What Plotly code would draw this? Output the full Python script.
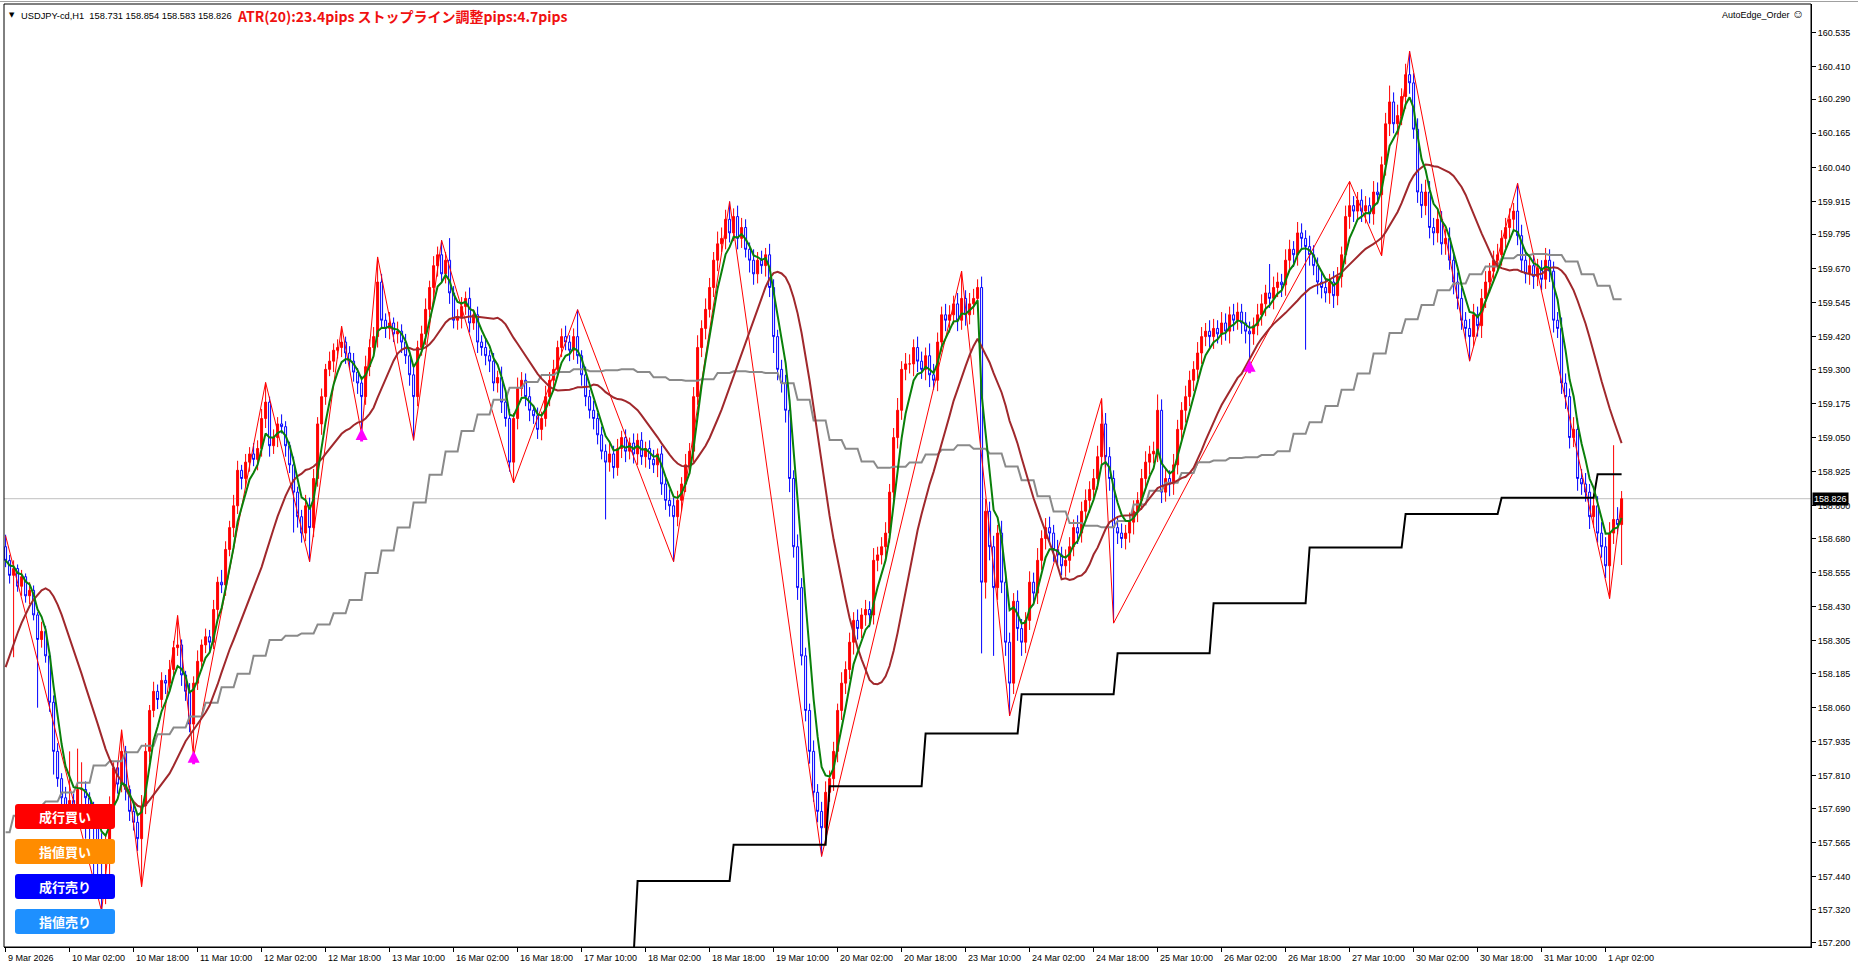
import plotly.graph_objects as go

# ---------------- figure geometry ----------------
W, H = 1858, 967
ML, MR, MT, MB = 4, 47, 4, 20
PW, PH = W - ML - MR, H - MT - MB


def pxx(px):
    return (px - ML) / PW


def pxy(py):
    return 1 - (py - MT) / PH


# ---------------- data (prices in points: 157.000 + pts*0.001) ----------------
BASE = 157.0
UNIT = 0.001

first_open_pts = 1650
close_pts = [
    1600, 1545, 1570, 1505, 1540, 1470, 1490, 1400, 1310, 1340, 1250, 1080, 900, 800, 730, 680, 720, 700, 760, 760,
    730, 690, 620, 560, 520, 560, 700, 840, 780, 900, 760, 680, 640, 580, 700, 900, 1050, 1120, 1090, 1160,
    1150, 1200, 1280, 1290, 1180, 1120, 1000, 1150, 1230, 1290, 1320, 1300, 1420, 1520, 1510, 1640, 1720, 1800, 1930, 1900,
    1960, 1990, 1970, 2010, 2120, 2180, 2020, 2050, 2100, 2090, 2020, 1950, 1850, 1760, 1700, 1800, 1720, 1900, 2100, 2200,
    2300, 2330, 2370, 2380, 2400, 2360, 2330, 2290, 2250, 2200, 2310, 2380, 2420, 2620, 2480, 2450, 2470, 2430, 2440, 2400,
    2350, 2280, 2200, 2380, 2430, 2520, 2600, 2680, 2720, 2650, 2700, 2580, 2480, 2490, 2530, 2560, 2470, 2500, 2400, 2380,
    2350, 2330, 2250, 2270, 2180, 2120, 1960, 2120, 2230, 2260, 2200, 2150, 2130, 2080, 2120, 2200, 2260, 2300, 2380, 2420,
    2400, 2370, 2420, 2350, 2280, 2200, 2150, 2120, 2060, 2000, 1960, 1990, 1940, 2010, 2050, 2000, 2030, 1990, 2040, 1980,
    2010, 1970, 1950, 1990, 1880, 1820, 1800, 1760, 1820, 1880, 1950, 2000, 2200, 2380, 2450, 2520, 2600, 2700, 2760, 2780,
    2850, 2800, 2860, 2780, 2820, 2740, 2700, 2650, 2700, 2680, 2720, 2600, 2420, 2300, 2250, 2150, 1900, 1650, 1500, 1250,
    1050, 900, 750, 680, 620, 750, 800, 900, 1050, 1150, 1200, 1300, 1380, 1350, 1400, 1420, 1400, 1600, 1620, 1650,
    1700, 1850, 2050, 2150, 2300, 2320, 2320, 2380, 2330, 2300, 2350, 2280, 2260, 2400, 2500, 2480, 2500, 2540, 2480, 2560,
    2500, 2540, 2560, 2600, 1520, 1780, 1650, 1500, 1700, 1520, 1300, 1150, 1450, 1350, 1300, 1380, 1520, 1480, 1600, 1680,
    1720, 1700, 1640, 1620, 1580, 1600, 1650, 1720, 1700, 1780, 1820, 1860, 1900, 1980, 2100, 1980, 1900, 1720, 1700, 1680,
    1700, 1740, 1780, 1820, 1900, 1960, 1990, 2000, 2150, 1850, 1900, 1880, 1950, 2080, 2150, 2200, 2260, 2300, 2360, 2420,
    2440, 2420, 2450, 2430, 2470, 2440, 2500, 2480, 2510, 2470, 2440, 2430, 2460, 2500, 2540, 2580, 2560, 2600, 2620, 2610,
    2700, 2740, 2720, 2800, 2780, 2750, 2720, 2680, 2620, 2600, 2580, 2620, 2570, 2640, 2720, 2860, 2900, 2880, 2920, 2880,
    2900, 2870, 2950, 2940, 3050, 3200, 3280, 3200, 3230, 3300, 3380, 3350, 3180, 2950, 2900, 2950, 2820, 2800, 2850, 2760,
    2780, 2700, 2620, 2560, 2480, 2450, 2420, 2500, 2460, 2560, 2620, 2660, 2700, 2720, 2780, 2820, 2850, 2880, 2790, 2700,
    2650, 2680, 2640, 2670, 2630, 2700, 2660, 2480, 2450, 2250, 2200, 2050, 2080, 1900, 1880, 1850, 1760, 1800, 1700, 1650,
    1580, 1700, 1750, 1731, 1826,
]
upper_wick_pts = [
    44, 20, 30, 15, 25, 12, 30, 18, 10, 35, 20, 15, 25, 30, 20, 40, 180, 25, 150, 100,
    30, 20, 25, 15, 40, 30, 35, 20, 25, 79, 20, 15, 30, 25, 40, 30, 20, 35, 25, 30,
    20, 35, 25, 108, 20, 15, 30, 25, 40, 20, 30, 25, 35, 20, 45, 30, 25, 40, 35, 20,
    30, 25, 40, 30, 35, 72, 20, 30, 25, 35, 20, 15, 30, 20, 25, 40, 30, 35, 25, 30,
    20, 35, 25, 30, 58, 20, 25, 30, 15, 25, 40, 30, 35, 92, 30, 25, 40, 20, 35, 25,
    30, 20, 35, 25, 30, 40, 25, 35, 30, 53, 30, 81, 25, 30, 35, 25, 40, 20, 30, 25,
    35, 20, 30, 25, 40, 30, 35, 20, 40, 30, 25, 35, 20, 30, 25, 40, 30, 35, 25, 30,
    40, 25, 30, 99, 20, 30, 25, 35, 20, 30, 25, 40, 30, 35, 25, 30, 20, 35, 25, 30,
    25, 30, 35, 20, 30, 25, 40, 30, 35, 25, 40, 30, 35, 45, 30, 40, 35, 30, 45, 40,
    35, 65, 30, 40, 35, 30, 25, 40, 30, 35, 25, 40, 30, 25, 35, 30, 40, 30, 45, 35,
    30, 25, 40, 30, 35, 40, 30, 35, 25, 40, 30, 35, 30, 40, 25, 35, 30, 45, 30, 35,
    40, 30, 35, 45, 30, 40, 35, 30, 40, 35, 30, 45, 40, 35, 30, 40, 35, 30, 40, 100,
    30, 40, 35, 30, 40, 45, 35, 40, 30, 45, 40, 35, 30, 40, 35, 30, 40, 35, 45, 30,
    35, 40, 30, 35, 30, 40, 35, 30, 45, 35, 40, 30, 35, 40, 93, 40, 35, 30, 40, 35,
    30, 35, 40, 30, 35, 40, 30, 35, 58, 40, 35, 30, 40, 35, 30, 40, 35, 30, 40, 35,
    30, 40, 35, 30, 40, 35, 30, 40, 35, 30, 40, 35, 30, 40, 35, 30, 106, 40, 35, 30,
    40, 35, 30, 40, 35, 30, 40, 35, 30, 40, 35, 30, 40, 35, 30, 40, 89, 35, 30, 40,
    35, 30, 40, 35, 30, 40, 60, 35, 40, 30, 40, 86, 35, 40, 30, 45, 40, 35, 40, 30,
    35, 40, 30, 35, 40, 30, 35, 40, 30, 35, 40, 30, 35, 40, 30, 35, 40, 30, 102, 40,
    35, 30, 40, 35, 30, 45, 40, 35, 30, 40, 35, 30, 45, 40, 35, 40, 30, 45, 35, 40,
    35, 40, 272, 45, 28,
]
lower_wick_pts = [
    25, 30, 300, 20, 35, 25, 30, 20, 250, 30, 25, 35, 85, 30, 40, 35, 30, 40, 35, 120,
    150, 170, 200, 150, 206, 180, 120, 40, 35, 30, 40, 35, 30, 45, 176, 30, 40, 25, 35, 30,
    40, 25, 35, 30, 40, 35, 30, 120, 25, 35, 30, 40, 25, 35, 30, 40, 25, 35, 30, 40,
    30, 35, 25, 40, 30, 35, 40, 30, 35, 25, 40, 30, 148, 40, 35, 30, 125, 35, 30, 40,
    30, 25, 40, 30, 35, 40, 30, 35, 40, 137, 30, 35, 25, 40, 30, 35, 40, 30, 35, 40,
    30, 40, 160, 35, 30, 40, 30, 35, 40, 30, 35, 40, 30, 35, 40, 30, 35, 25, 40, 30,
    35, 40, 30, 35, 40, 30, 35, 76, 40, 30, 35, 40, 30, 35, 40, 30, 35, 40, 30, 35,
    30, 40, 35, 30, 40, 35, 30, 40, 35, 30, 210, 35, 40, 30, 35, 40, 30, 35, 40, 30,
    40, 35, 30, 45, 40, 35, 40, 165, 35, 40, 30, 35, 40, 30, 35, 40, 30, 35, 40, 30,
    40, 35, 30, 40, 35, 30, 45, 40, 35, 30, 40, 35, 60, 40, 35, 45, 50, 40, 45, 35,
    40, 45, 35, 40, 105, 40, 35, 45, 40, 35, 40, 35, 45, 40, 35, 40, 45, 35, 40, 35,
    40, 35, 45, 40, 35, 40, 35, 45, 40, 35, 40, 45, 35, 40, 35, 40, 45, 35, 40, 35,
    40, 35, 40, 45, 261, 60, 50, 250, 45, 40, 50, 120, 40, 45, 50, 40, 35, 45, 40, 35,
    40, 35, 45, 40, 35, 40, 45, 35, 40, 35, 40, 45, 35, 40, 35, 40, 45, 350, 40, 35,
    40, 35, 45, 40, 35, 40, 45, 35, 40, 40, 35, 45, 40, 35, 40, 45, 35, 40, 35, 40,
    35, 40, 45, 35, 40, 35, 45, 40, 35, 40, 45, 117, 40, 35, 40, 45, 35, 40, 35, 45,
    40, 35, 45, 40, 35, 378, 40, 35, 45, 40, 35, 40, 45, 35, 40, 35, 45, 40, 35, 40,
    45, 35, 40, 35, 224, 40, 45, 35, 40, 35, 45, 40, 35, 40, 45, 35, 40, 45, 35, 40,
    40, 35, 45, 40, 35, 40, 90, 35, 40, 45, 35, 40, 35, 45, 40, 35, 40, 45, 35, 40,
    35, 40, 45, 35, 40, 35, 40, 45, 35, 40, 45, 40, 35, 45, 40, 35, 45, 40, 35, 40,
    45, 120, 40, 35, 148,
]
# closes before the visible window (only used to warm up the 21-bar average)
pre_close_pts = [620, 680, 700, 760, 800, 860, 900, 940, 1000, 1112,
                 1250, 1350, 1420, 1500, 1560, 1600, 1640, 1680, 1700, 1717]
# grey stepped line: one value per H4 block
gray_h4_pts = [
    604, 664, 700, 716, 749, 785, 848, 864, 897, 921,
    963, 987, 1028, 1078, 1135, 1184, 1250, 1308, 1324, 1332,
    1365, 1406, 1455, 1554, 1636, 1720, 1812, 1914, 1999, 2074,
    2135, 2189, 2233, 2254, 2279, 2290, 2300, 2293, 2297, 2300,
    2290, 2271, 2261, 2258, 2264, 2287, 2293, 2290, 2287, 2249,
    2189, 2113, 2041, 2009, 1962, 1939, 1943, 1959, 1988, 2005,
    2022, 2009, 1992, 1944, 1894, 1835, 1779, 1737, 1727, 1721,
    1744, 1805, 1855, 1884, 1920, 1960, 1966, 1975, 1978, 1986,
    2000, 2064, 2106, 2166, 2225, 2285, 2358, 2433, 2484, 2536,
    2590, 2615, 2649, 2677, 2707, 2719, 2723, 2719, 2695, 2649,
    2606, 2557,
]
# black stepped line: one value per day (9 Mar .. 1 Apr)
black_d1_pts = [None, None, None, None, None, None, 150, 425, 558, 772,
                965, 1109, 1260, 1443, 1647, 1770, 1829, 1916]
# zigzag vertices
zz_bar = [0, 24, 29, 34, 43, 47, 65, 76, 84, 89, 93, 102, 109, 127, 143, 167, 181, 204,
          239, 251, 274, 277, 311, 336, 344, 351, 366, 378, 401, 404]
zz_pts = [1690, 314, 979, 404, 1398, 880, 2252, 1595, 2458, 2063, 2712, 2040, 2773, 1884,
          2519, 1595, 2915, 515, 2660, 1030, 2193, 1370, 2313, 2989, 2716, 3466, 2330, 2982,
          1460, 1826]
arrow_bars = [47, 89, 311]

x_tick_bars = list(range(0, 401, 16))
x_tick_text = ["9 Mar 2026", "10 Mar 02:00", "10 Mar 18:00", "11 Mar 10:00", "12 Mar 02:00",
               "12 Mar 18:00", "13 Mar 10:00", "16 Mar 02:00", "16 Mar 18:00", "17 Mar 10:00",
               "18 Mar 02:00", "18 Mar 18:00", "19 Mar 10:00", "20 Mar 02:00", "20 Mar 18:00",
               "23 Mar 10:00", "24 Mar 02:00", "24 Mar 18:00", "25 Mar 10:00", "26 Mar 02:00",
               "26 Mar 18:00", "27 Mar 10:00", "30 Mar 02:00", "30 Mar 18:00", "31 Mar 10:00",
               "1 Apr 02:00"]
y_tick_vals = [160.535, 160.410, 160.290, 160.165, 160.040, 159.915, 159.795, 159.670,
               159.545, 159.420, 159.300, 159.175, 159.050, 158.925, 158.800, 158.680,
               158.555, 158.430, 158.305, 158.185, 158.060, 157.935, 157.810, 157.690,
               157.565, 157.440, 157.320, 157.200]
Y_RANGE = [157.183, 160.639]
X_RANGE = [-0.4, 451.35]

buttons = [("成行買い", "#ff0000"), ("指値買い", "#ff8c00"),
           ("成行売り", "#0000ff"), ("指値売り", "#1e90ff")]

# ---------------- derived series ----------------
n = len(close_pts)
assert len(upper_wick_pts) == n and len(lower_wick_pts) == n, (n, len(upper_wick_pts), len(lower_wick_pts))


def to_price(p):
    return None if p is None else round(BASE + p * UNIT, 3)


open_pts = [first_open_pts] + close_pts[:-1]
high_pts = [max(o, c) + u for o, c, u in zip(open_pts, close_pts, upper_wick_pts)]
low_pts = [min(o, c) - l for o, c, l in zip(open_pts, close_pts, lower_wick_pts)]
bars = list(range(n))
op = [to_price(v) for v in open_pts]
hi = [to_price(v) for v in high_pts]
lo = [to_price(v) for v in low_pts]
cl = [to_price(v) for v in close_pts]

alpha = 2 / (5 + 1)
ema5 = []
for i, c in enumerate(cl):
    ema5.append(c if i == 0 else ema5[-1] + alpha * (c - ema5[-1]))

full_cl = [to_price(v) for v in pre_close_pts] + cl
npre = len(pre_close_pts)
sma21 = [sum(full_cl[i + npre - 20:i + npre + 1]) / 21 for i in range(n)]

gray = [to_price(gray_h4_pts[(i + 2) // 4]) for i in bars]
black = [to_price(black_d1_pts[(i + 10) // 24]) for i in bars]

# ---------------- figure ----------------
fig = go.Figure()
fig.add_trace(go.Candlestick(
    x=bars, open=op, high=hi, low=lo, close=cl,
    increasing=dict(line=dict(color="#ff0000", width=1), fillcolor="#ff0000"),
    decreasing=dict(line=dict(color="#0000ff", width=1), fillcolor="#ffffff"),
    whiskerwidth=0, hoverinfo="skip", showlegend=False))
fig.add_trace(go.Scatter(x=zz_bar, y=[to_price(v) for v in zz_pts], mode="lines",
                         line=dict(color="#ff0000", width=1), hoverinfo="skip", showlegend=False))
fig.add_trace(go.Scatter(x=bars, y=gray, mode="lines", line=dict(color="#8a8a8a", width=2),
                         hoverinfo="skip", showlegend=False))
fig.add_trace(go.Scatter(x=bars, y=black, mode="lines", line=dict(color="#000000", width=2),
                         connectgaps=False, hoverinfo="skip", showlegend=False))
fig.add_trace(go.Scatter(x=bars, y=sma21, mode="lines", line=dict(color="#a0282c", width=2),
                         hoverinfo="skip", showlegend=False))
fig.add_trace(go.Scatter(x=bars, y=ema5, mode="lines", line=dict(color="#0a800a", width=2),
                         hoverinfo="skip", showlegend=False))

shapes = []
annotations = []

# current price line
last_close = cl[-1]
shapes.append(dict(type="line", xref="paper", yref="y", x0=0, x1=1, y0=last_close, y1=last_close,
                   line=dict(color="#c0c0c0", width=1), layer="below"))
# frame
shapes.append(dict(type="rect", xref="paper", yref="paper", x0=0, x1=1, y0=0, y1=1,
                   line=dict(color="#000000", width=1), fillcolor="rgba(0,0,0,0)"))
shapes.append(dict(type="line", xref="paper", yref="paper", x0=pxx(0), x1=pxx(W), y0=pxy(1.5), y1=pxy(1.5),
                   line=dict(color="#a0a0a0", width=1)))

# buy-signal arrows (tip just above the bar low, stem below)
for b in arrow_bars:
    annotations.append(dict(x=b, y=lo[b], xref="x", yref="y", yshift=6, text="", showarrow=True,
                            ax=0, ay=15, arrowhead=2, arrowsize=0.8, arrowwidth=3,
                            arrowcolor="#ff00ff", standoff=0))

# x tick labels (left aligned at tick, as in MT4)
for b, t in zip(x_tick_bars, x_tick_text):
    annotations.append(dict(x=b, y=pxy(958), xref="x", yref="paper", text=t, showarrow=False,
                            xanchor="left", yanchor="middle", xshift=0,
                            font=dict(family="Liberation Sans", size=9, color="#000000")))

# price box on axis
annotations.append(dict(x=1, y=last_close, xref="paper", yref="y", text=f"{last_close:.3f}",
                        showarrow=False, xanchor="left", yanchor="middle", xshift=1,
                        bgcolor="#000000", borderpad=1,
                        font=dict(family="Liberation Sans", size=9, color="#ffffff")))

# header texts
annotations.append(dict(x=pxx(7), y=pxy(15), xref="paper", yref="paper", text="▼", showarrow=False,
                        xanchor="left", yanchor="middle",
                        font=dict(family="DejaVu Sans", size=7, color="#000000")))
hdr = "USDJPY-cd,H1\u00a0\u00a0{:.3f} {:.3f} {:.3f} {:.3f}".format(op[-1], hi[-1], lo[-1], cl[-1])
annotations.append(dict(x=pxx(19), y=pxy(15.5), xref="paper", yref="paper", text=hdr, showarrow=False,
                        xanchor="left", yanchor="middle",
                        font=dict(family="Liberation Sans", size=9.3, color="#000000")))
annotations.append(dict(x=pxx(235), y=pxy(16.5), xref="paper", yref="paper",
                        text="<b>ATR(20):23.4pips ストップライン調整pips:4.7pips</b>", showarrow=False,
                        xanchor="left", yanchor="middle",
                        font=dict(family="Noto Sans CJK JP", size=14, color="#f01010")))
annotations.append(dict(x=pxx(1806), y=pxy(14), xref="paper", yref="paper",
                        text="AutoEdge_Order\u00a0<span style='font-size:12px'>☺</span>", showarrow=False,
                        xanchor="right", yanchor="middle",
                        font=dict(family="Liberation Sans", size=9, color="#000000")))

# order buttons (rounded rectangles)
R = 3


def rounded_rect(x0, y0, x1, y1, r):
    X = lambda v: pxx(v)
    Y = lambda v: pxy(v)
    return (f"M {X(x0 + r)},{Y(y0)} L {X(x1 - r)},{Y(y0)} Q {X(x1)},{Y(y0)} {X(x1)},{Y(y0 + r)} "
            f"L {X(x1)},{Y(y1 - r)} Q {X(x1)},{Y(y1)} {X(x1 - r)},{Y(y1)} "
            f"L {X(x0 + r)},{Y(y1)} Q {X(x0)},{Y(y1)} {X(x0)},{Y(y1 - r)} "
            f"L {X(x0)},{Y(y0 + r)} Q {X(x0)},{Y(y0)} {X(x0 + r)},{Y(y0)} Z")


for k, (label, color) in enumerate(buttons):
    y0 = 804 + 35 * k
    y1 = y0 + 25
    shapes.append(dict(type="path", xref="paper", yref="paper", path=rounded_rect(15, y0, 115, y1, R),
                       fillcolor=color, line=dict(width=0), layer="above"))
    annotations.append(dict(x=pxx(65), y=pxy((y0 + y1) / 2), xref="paper", yref="paper",
                            text=f"<b>{label}</b>", showarrow=False, xanchor="center", yanchor="middle",
                            font=dict(family="Noto Sans CJK JP", size=13, color="#ffffff")))

fig.update_layout(
    width=W, height=H, margin=dict(l=ML, r=MR, t=MT, b=MB),
    paper_bgcolor="#ffffff", plot_bgcolor="#ffffff",
    font=dict(family="Liberation Sans", size=9, color="#000000"),
    showlegend=False, shapes=shapes, annotations=annotations,
    xaxis=dict(range=X_RANGE, showgrid=False, zeroline=False, rangeslider=dict(visible=False),
               tickvals=x_tick_bars, ticktext=["" for _ in x_tick_bars], ticks="outside",
               ticklen=4, tickcolor="#000000", showline=True, linecolor="#000000", linewidth=1,
               fixedrange=True),
    yaxis=dict(range=Y_RANGE, side="right", showgrid=False, zeroline=False,
               tickvals=y_tick_vals, ticktext=[f"{v:.3f}" for v in y_tick_vals],
               ticks="outside", ticklen=4, tickcolor="#000000", showline=True,
               linecolor="#000000", linewidth=1,
               tickfont=dict(family="Liberation Sans", size=9, color="#000000"),
               fixedrange=True),
)

fig.write_html("out.html", config={"displayModeBar": False},
               post_script="document.body.style.margin='0';document.body.style.overflow='hidden';")
